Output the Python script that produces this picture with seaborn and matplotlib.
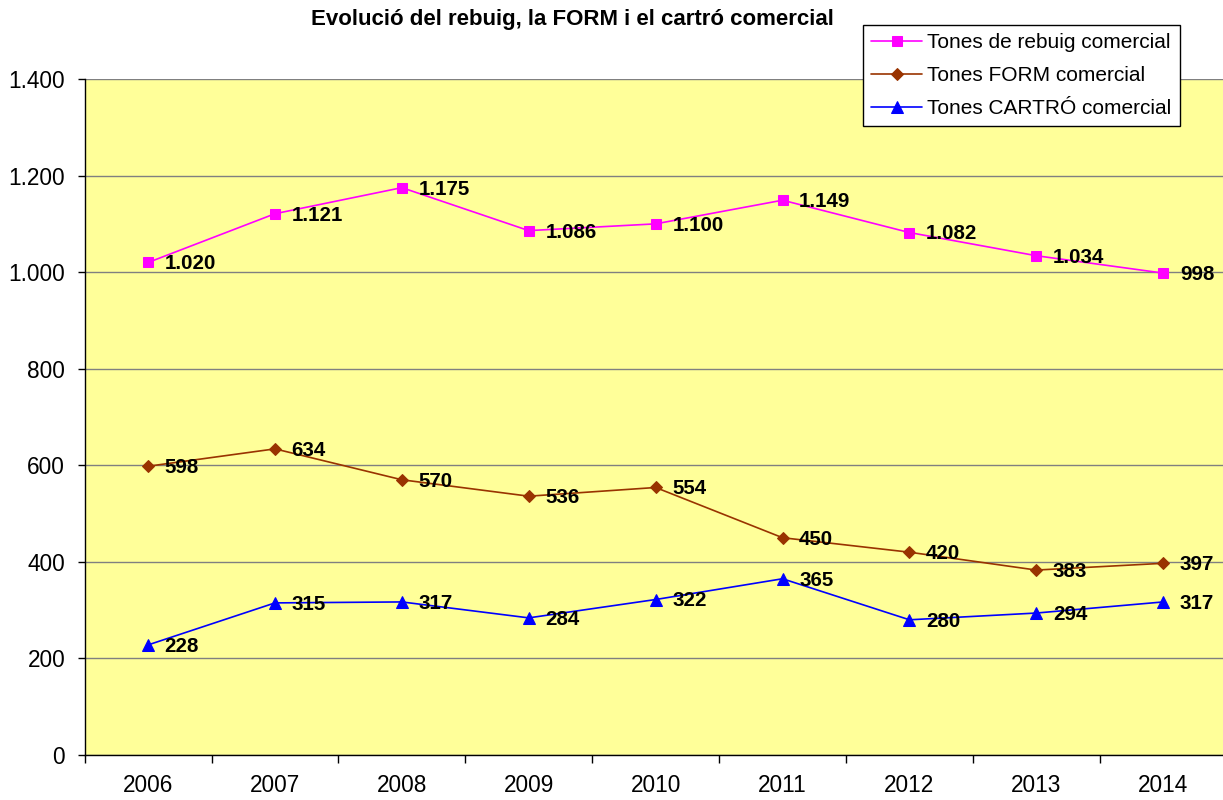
import pandas as pd
import matplotlib
matplotlib.use("Agg")
import matplotlib.pyplot as plt
from matplotlib.ticker import FuncFormatter, FixedLocator
import seaborn as sns

years = ["2006", "2007", "2008", "2009", "2010", "2011", "2012", "2013", "2014"]
rebuig = [1020, 1121, 1175, 1086, 1100, 1149, 1082, 1034, 998]
form = [598, 634, 570, 536, 554, 450, 420, 383, 397]
cartro = [228, 315, 317, 284, 322, 365, 280, 294, 317]

series_names = ["Tones de rebuig comercial", "Tones FORM comercial", "Tones CARTRÓ comercial"]
series_values = [rebuig, form, cartro]
colors = ["#FF00FF", "#993300", "#0000FF"]
markers = ["s", "D", "^"]
msizes = [6.5, 6, 8]

sns.set_theme(style="white")
plt.rcParams["font.family"] = ["Liberation Sans", "DejaVu Sans"]
plt.rcParams["text.color"] = "black"


def dotted(v):
    return f"{int(round(v)):,}".replace(",", ".")


fig = plt.figure(figsize=(12.23, 8), dpi=100)
ax = fig.add_axes([0.0692, 0.05625, 0.9338, 0.845])
ax.set_facecolor("#FFFF99")

for name, vals, col, mk, ms in zip(series_names, series_values, colors, markers, msizes):
    df = pd.DataFrame({"x": range(len(years)), "y": vals})
    sns.lineplot(data=df, x="x", y="y", ax=ax, color=col, marker=mk, markersize=ms,
                 markeredgecolor=col, linewidth=1.2, label=name)
    for i, v in enumerate(vals):
        ax.annotate(dotted(v), (i, v), xytext=(12, -1), textcoords="offset points",
                    ha="left", va="center", fontsize=14.8, fontweight="bold", color="black")

ax.set_xlim(-0.5, len(years) - 0.5)
ax.set_ylim(0, 1400)
ax.set_yticks(range(0, 1401, 200))
ax.yaxis.set_major_formatter(FuncFormatter(lambda v, p: dotted(v)))
ax.set_xticks(range(len(years)))
ax.set_xticklabels(years)
ax.xaxis.set_minor_locator(FixedLocator([i - 0.5 for i in range(len(years) + 1)]))
ax.tick_params(axis="x", which="major", length=0, pad=14, labelsize=16.3, colors="black")
ax.tick_params(axis="x", which="minor", length=6, width=1, direction="out", color="black", bottom=True)
ax.tick_params(axis="y", which="major", length=5, width=1, direction="out", pad=9,
               labelsize=16.3, colors="black", left=True)
ax.grid(axis="y", color="#808080", linewidth=1)
ax.set_axisbelow(True)
ax.set_xlabel("")
ax.set_ylabel("")
for s in ["top", "right"]:
    ax.spines[s].set_visible(False)
for s in ["left", "bottom"]:
    ax.spines[s].set_color("black")
    ax.spines[s].set_linewidth(1)

leg = ax.legend(loc="upper right", bbox_to_anchor=(1180 / 1223, 1 - 25 / 800),
                bbox_transform=fig.transFigure, fontsize=15, frameon=True, fancybox=False,
                borderpad=0.4, labelspacing=0.66, handlelength=2.45, handletextpad=0.25,
                borderaxespad=0)
leg.get_frame().set_edgecolor("black")
leg.get_frame().set_linewidth(1)
leg.get_frame().set_facecolor("white")
leg.get_frame().set_alpha(1)
for t in leg.get_texts():
    t.set_color("black")

fig.text(572 / 1223, 1 - 20 / 800, "Evolució del rebuig, la FORM i el cartró comercial",
         ha="center", va="center", fontsize=16, fontweight="bold", color="black")

fig.savefig("out.png", dpi=100, facecolor="white")
